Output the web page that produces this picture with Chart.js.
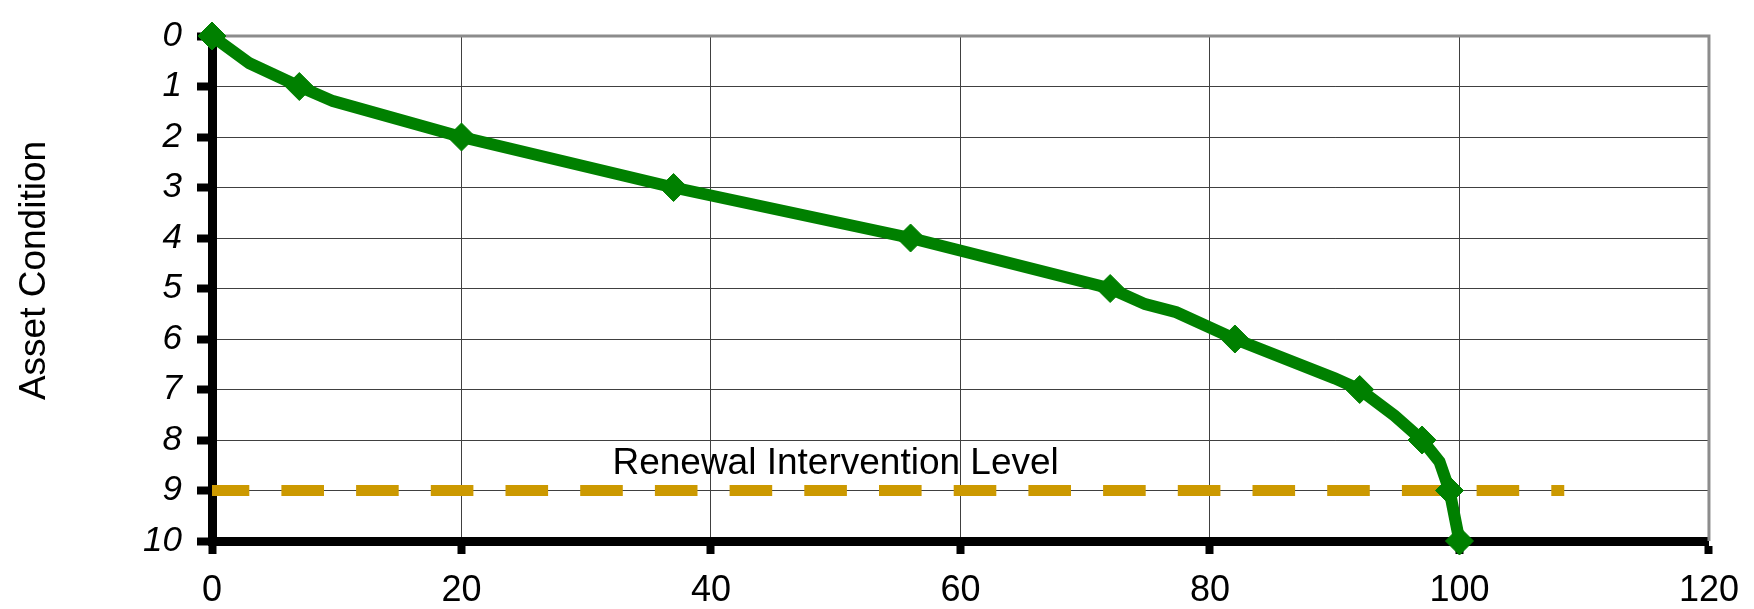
<!DOCTYPE html>
<html>
<head>
<meta charset="utf-8">
<script src="https://cdn.jsdelivr.net/npm/chart.js@4"></script>
<style>
  html, body { margin: 0; padding: 0; background: #fff; }
  #wrap { width: 1754px; height: 609px; }
</style>
</head>
<body>
<div id="wrap"><canvas id="chart"></canvas></div>
<script>
// deterioration curve (age vs condition), markers sit on whole condition grades
const ages       = [0, 3, 7, 9.7, 20, 37, 56, 72, 74.8, 77.3, 82, 90, 92, 94.8, 97, 98.4, 99.2, 100];
const conditions = [0, 0.54, 1, 1.29, 2, 3, 4, 5, 5.31, 5.47, 6, 6.78, 7, 7.52, 8, 8.43, 9, 10];

// renewal intervention level
const interventionLevel = 9;
const interventionFrom = 0;
const interventionTo = 108.4;
const interventionText = 'Renewal Intervention Level';
const interventionTextAt = [32.1, 8.68];

const yTitle = 'Asset Condition';
const xTicks = [0, 20, 40, 60, 80, 100, 120];
const yTicks = [0, 1, 2, 3, 4, 5, 6, 7, 8, 9, 10];

const FONT = "'Liberation Sans', Arial, sans-serif";

const curve = ages.map((a, i) => ({ x: a, y: conditions[i] }));
const level = [{ x: interventionFrom, y: interventionLevel }, { x: interventionTo, y: interventionLevel }];

const extras = {
  id: 'extras',
  beforeDatasetsDraw(chart) {
    const { ctx, chartArea: a } = chart;
    ctx.save();
    ctx.strokeStyle = '#8c8c8c';
    ctx.lineWidth = 3;
    ctx.beginPath();
    ctx.moveTo(a.left, a.top);
    ctx.lineTo(a.right, a.top);
    ctx.lineTo(a.right, a.bottom);
    ctx.stroke();
    ctx.restore();
  },
  afterDraw(chart) {
    const { ctx, chartArea: a, scales } = chart;
    ctx.save();
    ctx.fillStyle = '#000';
    ctx.font = '37px ' + FONT;
    ctx.textAlign = 'left';
    ctx.textBaseline = 'alphabetic';
    ctx.fillText(interventionText,
      scales.x.getPixelForValue(interventionTextAt[0]),
      scales.y.getPixelForValue(interventionTextAt[1]));

    ctx.translate(45, (a.top + a.bottom) / 2 - 18);
    ctx.rotate(-Math.PI / 2);
    ctx.font = '37px ' + FONT;
    ctx.textAlign = 'center';
    ctx.fillText(yTitle, 0, 0);
    ctx.restore();
  }
};

new Chart(document.getElementById('chart'), {
  type: 'scatter',
  data: {
    datasets: [{
      label: 'Condition',
      data: curve,
      showLine: true,
      tension: 0,
      borderColor: '#008000',
      backgroundColor: '#008000',
      borderWidth: 12,
      pointStyle: 'rectRot',
      pointRadius: c => Number.isInteger(c.raw.y) ? 14 : 0,
      pointBorderWidth: 1,
      pointHoverRadius: 0,
      clip: false,
      order: 0
    }, {
      label: 'Intervention',
      data: level,
      showLine: true,
      borderColor: '#cc9900',
      borderWidth: 11,
      borderDash: [42.6, 32.1],
      borderDashOffset: 5.3,
      pointRadius: 0,
      clip: false,
      order: 1
    }]
  },
  options: {
    responsive: true,
    maintainAspectRatio: false,
    animation: false,
    devicePixelRatio: 1,
    layout: { padding: { top: 25, right: 42, left: 0, bottom: 0 } },
    plugins: { legend: { display: false }, tooltip: { enabled: false } },
    scales: {
      x: {
        type: 'linear',
        min: 0, max: 120,
        afterBuildTicks: s => { s.ticks = xTicks.map(v => ({ value: v })); },
        afterFit: s => { s.height = 68; },
        border: { display: true, color: '#000', width: 9 },
        grid: { color: '#404040', lineWidth: 1, tickLength: 13, tickWidth: 8, tickColor: '#000' },
        ticks: { color: '#000', padding: 15, maxRotation: 0, font: { family: FONT, size: 36 } }
      },
      y: {
        type: 'linear',
        reverse: true,
        min: 0, max: 10,
        afterBuildTicks: s => { s.ticks = yTicks.map(v => ({ value: v })); },
        afterFit: s => { s.width = 212; },
        border: { display: true, color: '#000', width: 9 },
        grid: { color: '#404040', lineWidth: 1, tickLength: 15, tickWidth: 8, tickColor: '#000' },
        ticks: { color: '#000', padding: 15, font: { family: FONT, size: 35, style: 'italic' } }
      }
    }
  },
  plugins: [extras]
});
</script>
</body>
</html>
